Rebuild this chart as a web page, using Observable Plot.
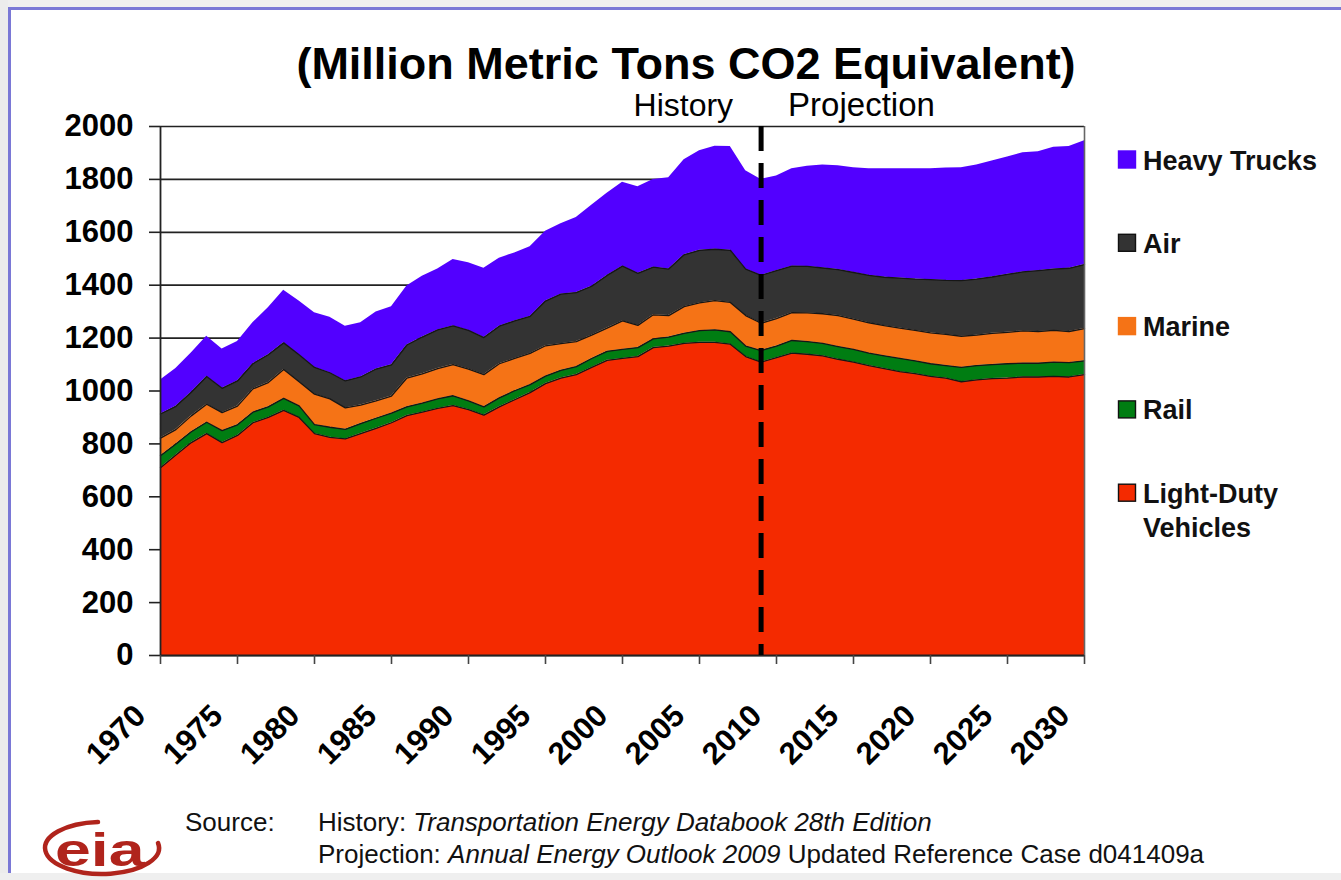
<!DOCTYPE html>
<html>
<head>
<meta charset="utf-8">
<script src="https://cdn.jsdelivr.net/npm/d3@7"></script>
<script src="https://cdn.jsdelivr.net/npm/@observablehq/plot@0.6"></script>
<style>
  html, body { margin: 0; padding: 0; overflow: hidden; background: #fff; }
  #page { position: relative; width: 1341px; height: 880px; background: #fff; font-family: "Liberation Sans", Arial, sans-serif; }
  #chart { position: absolute; left: 0; top: 0; }
  #overlay { position: absolute; left: 0; top: 0; }
</style>
</head>
<body>
<div id="page">
  <div id="chart"></div>
  <svg id="overlay" width="1341" height="880"></svg>
</div>
<script>
// ---------------- DATA ----------------
const years = d3.range(1970, 2031); // 1970 ... 2030

const lightDuty = [
  710, 758, 805, 839, 805, 832, 880, 900, 927, 900,
  839, 825, 819, 839, 859, 880, 907, 920, 934, 945,
  930, 909, 940, 967, 994, 1028, 1049, 1062, 1089, 1116,
  1123, 1130, 1164, 1170, 1180, 1184, 1184, 1177, 1130, 1109,
  1126, 1143, 1139, 1133, 1120, 1109, 1096, 1085, 1073, 1066,
  1055, 1049, 1035, 1042, 1047, 1049, 1053, 1053, 1055, 1053,
  1062
];
const rail = [
  45, 42, 41, 43, 45, 40, 40, 40, 45, 44,
  34, 38, 36, 38, 38, 36, 33, 34, 36, 37,
  33, 31, 34, 34, 30, 28, 29, 30, 34, 34,
  34, 34, 33, 34, 38, 44, 47, 47, 40, 44,
  44, 48, 48, 47, 48, 48, 47, 48, 50, 48,
  48, 47, 54, 54, 53, 54, 52, 52, 54, 54,
  52
];
const marine = [
  67, 54, 60, 68, 68, 71, 88, 92, 109, 91,
  115, 107, 81, 70, 66, 65, 109, 111, 115, 118,
  120, 122, 129, 122, 118, 115, 101, 95, 88, 88,
  108, 84, 91, 81, 101, 105, 111, 111, 115, 103,
  104, 105, 108, 112, 117, 115, 115, 114, 115, 115,
  117, 118, 118, 115, 118, 119, 122, 120, 120, 118,
  122
];
const air = [
  91, 88, 89, 105, 92, 95, 95, 105, 101, 102,
  101, 99, 102, 106, 120, 118, 125, 139, 146, 146,
  146, 140, 142, 142, 140, 169, 187, 185, 185, 199,
  207, 197, 180, 176, 196, 199, 194, 197, 176, 181,
  181, 176, 176, 173, 174, 176, 179, 183, 189, 194,
  201, 204, 210, 212, 213, 219, 223, 230, 232, 239,
  242
];
const heavyTrucks = [
  129, 143, 149, 152, 149, 149, 155, 178, 199, 203,
  207, 210, 207, 205, 216, 220, 223, 230, 230, 251,
  256, 262, 257, 257, 263, 264, 266, 284, 306, 311,
  317, 327, 332, 345, 359, 376, 389, 392, 372, 363,
  358, 368, 379, 389, 393, 396, 403, 410, 413, 417,
  419, 425, 427, 431, 439, 444, 451, 450, 461, 460,
  468
];

// stacking order: bottom -> top
const seriesNames = ["Light-Duty Vehicles", "Rail", "Marine", "Air", "Heavy Trucks"];
const seriesValues = [lightDuty, rail, marine, air, heavyTrucks];
const seriesColors = ["#f42a00", "#007d12", "#f57316", "#333333", "#5200ff"];

// legend (top -> bottom)
const legendNames = ["Heavy Trucks", "Air", "Marine", "Rail", "Light-Duty Vehicles"];
const legendLines = [["Heavy Trucks"], ["Air"], ["Marine"], ["Rail"], ["Light-Duty", "Vehicles"]];

const yTicks = [0, 200, 400, 600, 800, 1000, 1200, 1400, 1600, 1800, 2000];
const yTickLabels = ["0", "200", "400", "600", "800", "1000", "1200", "1400", "1600", "1800", "2000"];
const xTicks = [1970, 1975, 1980, 1985, 1990, 1995, 2000, 2005, 2010, 2015, 2020, 2025, 2030];
const xTickLabels = ["1970", "1975", "1980", "1985", "1990", "1995", "2000", "2005", "2010", "2015", "2020", "2025", "2030"];

const dividerYear = [2009];
const phaseLabels = ["History", "Projection"];

const titleText = "(Million Metric Tons CO2 Equivalent)";

// ---------------- TABLE ----------------
const rows = years.flatMap((year, i) =>
  seriesNames.map((series, j) => ({year, series, value: seriesValues[j][i]}))
);

const FONT = '"Liberation Sans", Arial, Helvetica, sans-serif';

// ---------------- PLOT ----------------
const chart = Plot.plot({
  width: 1341,
  height: 780,
  marginLeft: 160,
  marginRight: 257,
  marginTop: 126,
  marginBottom: 125,
  style: {fontFamily: FONT, fontWeight: "bold", background: "transparent", color: "#000", overflow: "visible"},
  x: {domain: [1970, 2030]},
  y: {domain: [0, 2000]},
  color: {domain: seriesNames, range: seriesColors},
  marks: [
    Plot.ruleY(yTicks, {stroke: "#222", strokeWidth: 1.7}),
    Plot.areaY(rows, {x: "year", y: "value", z: "series", fill: "series", order: seriesNames}),
    Plot.lineY(rows, Plot.stackY2({
      x: "year", y: "value", z: "series", order: seriesNames,
      filter: d => d.series !== "Heavy Trucks",
      stroke: "#161616", strokeWidth: 1.3
    })),
    Plot.ruleX([2030], {stroke: "#666", strokeWidth: 1.6}),
    Plot.ruleY([0], {stroke: "#222", strokeWidth: 1.8}),
    Plot.ruleX([1970], {stroke: "#222", strokeWidth: 1.8}),
    Plot.ruleX(dividerYear, {stroke: "#000", strokeWidth: 5, strokeDasharray: "25,12"}),
    Plot.axisY({ticks: yTicks, tickFormat: d => yTickLabels[yTicks.indexOf(d)], tickSize: 11, tickPadding: 16, fontSize: 31, stroke: "#222", strokeWidth: 1.6, label: null}),
    Plot.axisX({ticks: xTicks, tickSize: 9, fill: "none", stroke: "#444", strokeWidth: 1.6, label: null}),
    Plot.axisX({ticks: xTicks, tickFormat: d => xTickLabels[xTicks.indexOf(d)], tickSize: 0, tickPadding: 55, tickRotate: -45, dx: -20, fontSize: 31, label: null}),
    Plot.text([{year: dividerYear[0], label: phaseLabels[0]}], {
      x: "year", text: "label", frameAnchor: "top", textAnchor: "end", lineAnchor: "bottom",
      dx: -28, dy: -11, fontSize: 32, fontWeight: "normal", fill: "#000"
    }),
    Plot.text([{year: dividerYear[0], label: phaseLabels[1]}], {
      x: "year", text: "label", frameAnchor: "top", textAnchor: "start", lineAnchor: "bottom",
      dx: 27, dy: -11, fontSize: 33, fontWeight: "normal", fill: "#000"
    })
  ]
});
document.getElementById("chart").appendChild(chart);

// ---------------- OVERLAY: frame, title, legend, footer ----------------
const ov = d3.select("#overlay");

// page frame
ov.append("rect").attr("x", 0).attr("y", 0).attr("width", 1341).attr("height", 7).attr("fill", "#efefef");
ov.append("rect").attr("x", 0).attr("y", 0).attr("width", 8).attr("height", 880).attr("fill", "#ececec");
ov.append("rect").attr("x", 0).attr("y", 873).attr("width", 1341).attr("height", 7).attr("fill", "#efefef");
ov.append("rect").attr("x", 8).attr("y", 7).attr("width", 1333).attr("height", 3).attr("fill", "#7a78d6");
ov.append("rect").attr("x", 8).attr("y", 7).attr("width", 3).attr("height", 866).attr("fill", "#7a78d6");

// title
ov.append("text").attr("x", 686).attr("y", 79).attr("text-anchor", "middle")
  .attr("font-family", FONT).attr("font-weight", "bold").attr("font-size", 45).attr("fill", "#000")
  .text(titleText);

// legend
const legendTop = 160, legendStep = 83.3;
legendNames.forEach((name, i) => {
  const cy = legendTop + i * legendStep;
  const color = seriesColors[seriesNames.indexOf(name)];
  ov.append("rect").attr("x", 1118.5).attr("y", cy - 9).attr("width", 17).attr("height", 17)
    .attr("fill", color)
    .attr("stroke", name === "Heavy Trucks" ? color : (name === "Marine" ? "#f57316" : "#111"))
    .attr("stroke-width", 1.4);
  const t = ov.append("text").attr("x", 1143).attr("y", cy + 9.5)
    .attr("font-family", FONT).attr("font-weight", "bold").attr("font-size", 27).attr("fill", "#111");
  legendLines[i].forEach((ln, k) => {
    t.append("tspan").attr("x", 1143).attr("dy", k === 0 ? 0 : 34).text(ln);
  });
});

// footer
const foot = ov.append("g").attr("font-family", FONT).attr("font-size", 26).attr("fill", "#111");
foot.append("text").attr("x", 185).attr("y", 831).text("Source:");
const l1 = foot.append("text").attr("x", 318).attr("y", 831);
l1.append("tspan").text("History: ");
l1.append("tspan").attr("font-style", "italic").text("Transportation Energy Databook 28th Edition");
const l2 = foot.append("text").attr("x", 318).attr("y", 863);
l2.append("tspan").text("Projection: ");
l2.append("tspan").attr("font-style", "italic").text("Annual Energy Outlook 2009");
l2.append("tspan").text(" Updated Reference Case d041409a");

// eia logo
const logo = ov.append("g");
logo.append("path")
  .attr("d", "M 98 822 A 57 26 0 1 0 158 843")
  .attr("fill", "none").attr("stroke", "#b0241c").attr("stroke-width", 4.5).attr("stroke-linecap", "round");
logo.append("text").attr("transform", "translate(55,866) scale(1.4,1)")
  .attr("font-family", FONT).attr("font-weight", "bold").attr("font-size", 46)
  .attr("fill", "#b0241c").text("eia");
</script>
</body>
</html>
